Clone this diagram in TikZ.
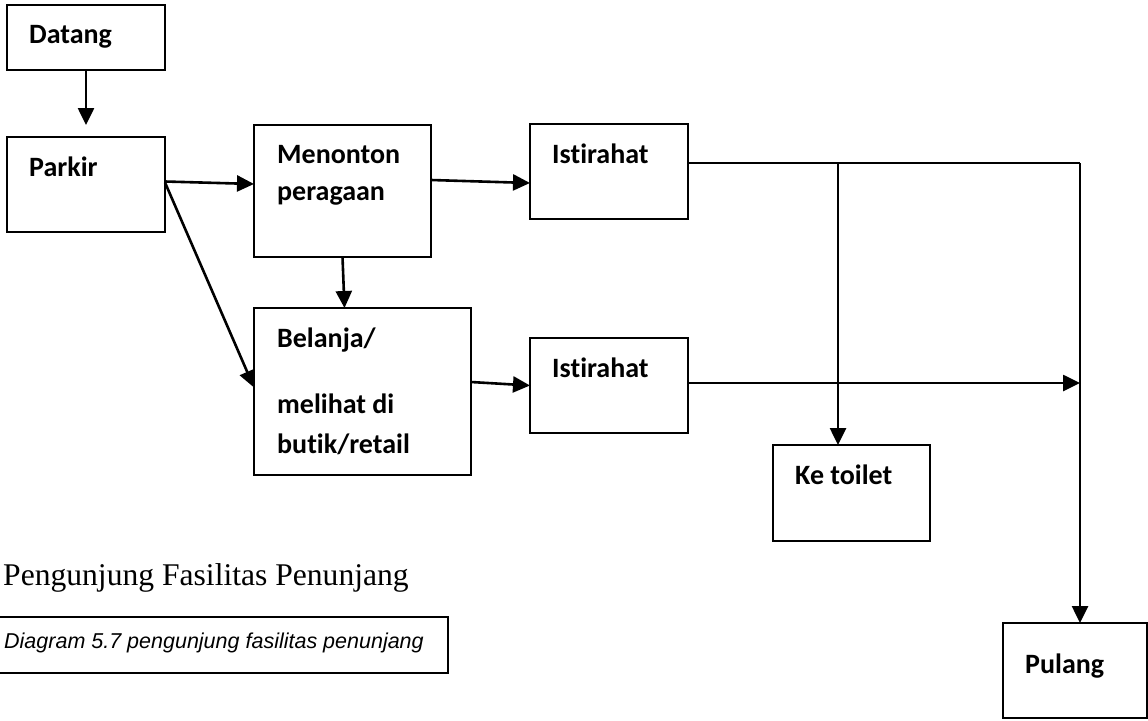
\documentclass[tikz,border=0pt]{standalone}
\usepackage{fontspec}
\setmainfont{Carlito}[Ligatures=NoCommon]
\newfontfamily\titlefont{Liberation Serif}
\newfontfamily\capfont{Liberation Sans}
\usetikzlibrary{arrows.meta,calc}
\begin{document}
\begin{tikzpicture}[x=1pt,y=-1pt,
  box/.style={draw,line width=2.8pt,rectangle,inner sep=0pt,outer sep=0pt,anchor=north west},
  lbl/.style={anchor=base west,inner sep=0pt,font=\bfseries\fontsize{28}{34}\selectfont},
  link/.style={line width=2.6pt},
  arr/.style={link,-{Triangle[length=17pt,width=16pt]}}]
\useasboundingbox (0,0) rectangle (1148,720);

% boxes of the visitor flow
\node[box,minimum width=158pt,minimum height=65pt]  (datang)   at (7,5)     {};
\node[box,minimum width=158pt,minimum height=95pt]  (parkir)   at (7,137)   {};
\node[box,minimum width=177pt,minimum height=132pt] (menonton) at (254,125) {};
\node[box,minimum width=158pt,minimum height=95pt]  (ist1)     at (530,124) {};
\node[box,minimum width=217pt,minimum height=167pt] (belanja)  at (254,308) {};
\node[box,minimum width=158pt,minimum height=95pt]  (ist2)     at (530,338) {};
\node[box,minimum width=157pt,minimum height=96pt]  (toilet)   at (773,445) {};
\node[box,minimum width=144pt,minimum height=95pt]  (pulang)   at (1003,623) {};

% box labels
\node[lbl] (tDatang)  at (29,43)   {Datang};
\node[lbl] (tParkir)  at (29,176)  {Parkir};
\node[lbl] (tMen1)    at (277,163) {Menonton};
\node[lbl] (tMen2)    at (277,200) {peragaan};
\node[lbl] (tIst1)    at (552,163) {Istirahat};
\node[lbl] (tBel1)    at (277,347) {Belanja/};
\node[lbl] (tBel2)    at (277,413) {melihat di};
\node[lbl] (tBel3)    at (277,453) {butik/retail};
\node[lbl] (tIst2)    at (552,377) {Istirahat};
\node[lbl] (tToilet)  at (795,484) {Ke toilet};
\node[lbl] (tPulang)  at (1025,673) {Pulang};

% connectors
\draw[arr,shorten >=12pt] (datang.south) -- (parkir.north);
\draw[arr] ([yshift=3]parkir.east) -- ([yshift=7]menonton.west);
\draw[arr] ([yshift=2]parkir.east) -- ([yshift=4]belanja.west);
\draw[arr] ([yshift=11]menonton.east) -- ([yshift=-11.5]ist1.west);
\draw[arr] (menonton.south) -- ([xshift=-18]belanja.north);
\draw[arr] ([yshift=9.5]belanja.east) -- (ist2.west);

\coordinate (corner) at (1080,163);
\coordinate (split)  at (838,163);
\draw[link] ([yshift=8.5]ist1.east) -- (corner);
\draw[arr] (corner) -- ([xshift=5]pulang.north);
\draw[arr] (split) -- ([xshift=-13.5]toilet.north);
\draw[arr] ([yshift=2.5]ist2.east) -- ([yshift=2.5]ist2.east -| corner);

% title and caption
\node[anchor=base west,inner sep=0pt,font=\titlefont\fontsize{31.6}{36}\selectfont] (title) at (3,585) {Pengunjung Fasilitas Penunjang};
\node[box,minimum width=449pt,minimum height=56pt,line width=2.4pt] (capbox) at (-1,617) {};
\node[anchor=base west,inner sep=0pt,font=\capfont\itshape\fontsize{21.5}{25}\selectfont] (caption) at (4,648) {Diagram 5.7 pengunjung fasilitas penunjang};
\end{tikzpicture}
\end{document}
